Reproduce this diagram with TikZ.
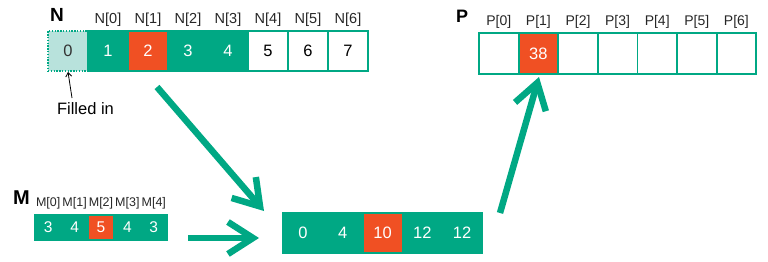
\documentclass[tikz,border=0pt]{standalone}
\usepackage{fontspec}
\setmainfont{Liberation Sans}
\usetikzlibrary{arrows.meta}
\definecolor{grn}{RGB}{0,168,132}
\definecolor{org}{RGB}{240,80,35}
\definecolor{lgt}{RGB}{184,226,220}
\begin{document}
\begin{tikzpicture}[x=1pt,y=-1pt,
  cellbase/.style={draw=grn, line width=1.8pt, inner sep=0pt, outer sep=0pt, anchor=north west},
  bigcell/.style={cellbase, minimum width=#1, minimum height=40pt, font=\fontsize{16.5}{19}\selectfont},
  smallcell/.style={cellbase, minimum width=26.4pt, minimum height=25pt, font=\fontsize{15.5}{18}\selectfont},
  gc/.style={fill=grn, text=white},
  wc/.style={fill=white, text=black},
  rc/.style={fill=org, text=white},
  dc/.style={fill=lgt, text=black!80, dash pattern=on 1.4pt off 1.4pt, line width=1.6pt},
  idx/.style={font=\fontsize{14.5}{17}\selectfont, text=black!85, inner sep=0pt},
  idxs/.style={font=\fontsize{12.5}{15}\selectfont, text=black!85, inner sep=0pt},
  title/.style={font=\bfseries\fontsize{#1}{#1}\selectfont, inner sep=0pt},
  bigarrow/.style={draw=grn, line width=6.5pt, -{Straight Barb[length=25pt,width=32pt,line width=6.5pt]}},
  thinarrow/.style={draw=black, line width=0.8pt, -{Straight Barb[length=4pt,width=6pt]}}
]
\useasboundingbox (0,0) rectangle (768,262);
% ---- N array
\node[title=19] (Nt) at (57,15) {N};
\node[bigcell=40pt, dc] (n0) at (48,31) {0};
\foreach \i/\v/\s in {1/1/gc,2/2/rc,3/3/gc,4/4/gc,5/5/wc,6/6/wc,7/7/wc}{
  \node[bigcell=40pt, \s] (n\i) at ({48+40*\i},31) {\v};
}
\foreach \i in {1,...,7}{
  \pgfmathtruncatemacro{\j}{\i-1}
  \node[idx] (nl\i) at ({68+40*\i},20) {N[\j]};
}
\node[font=\fontsize{16.5}{19}\selectfont, inner sep=0pt] (fill) at (85.5,109) {Filled in};
\coordinate (fi) at (72,98);
\draw[thinarrow] (fi) -- ([yshift=-1pt]n0.south);
% ---- P array
\node[title=18] (Pt) at (462,16) {P};
\foreach \i in {0,...,6}{
  \ifnum\i=1
    \node[cellbase, minimum width=39.6pt, minimum height=41pt, rc, font=\fontsize{16.5}{19}\selectfont] (p\i) at ({479+39.6*\i},33) {38};
  \else
    \node[cellbase, minimum width=39.6pt, minimum height=41pt, wc] (p\i) at ({479+39.6*\i},33) {};
  \fi
  \node[idx, font=\fontsize{14}{17}\selectfont] (pl\i) at ({498.8+39.6*\i},22) {P[\i]};
}
% ---- M array
\node[title=20] (Mt) at (21.5,198) {M};
\foreach \i/\v/\s in {0/3/gc,1/4/gc,2/5/rc,3/4/gc,4/3/gc}{
  \node[smallcell, \s] (m\i) at ({35+26.4*\i},215) {\v};
  \node[idxs] (ml\i) at ({48.2+26.4*\i},203) {M[\i]};
}
% ---- result array
\foreach \i/\v/\s in {0/0/gc,1/4/gc,2/10/rc,3/12/gc,4/12/gc}{
  \node[bigcell=39.8pt, \s] (r\i) at ({283+39.8*\i},213) {\v};
}
% ---- arrows
\coordinate (a1s) at (157,87);
\coordinate (a1e) at (264,211);
\draw[bigarrow] (a1s) -- (a1e);
\coordinate (a2s) at (188,238);
\coordinate (a2e) at (259,238);
\draw[bigarrow] (a2s) -- (a2e);
\coordinate (a3s) at (500,213);
\coordinate (a3e) at (539,77);
\draw[bigarrow] (a3s) -- (a3e);
\end{tikzpicture}
\end{document}
